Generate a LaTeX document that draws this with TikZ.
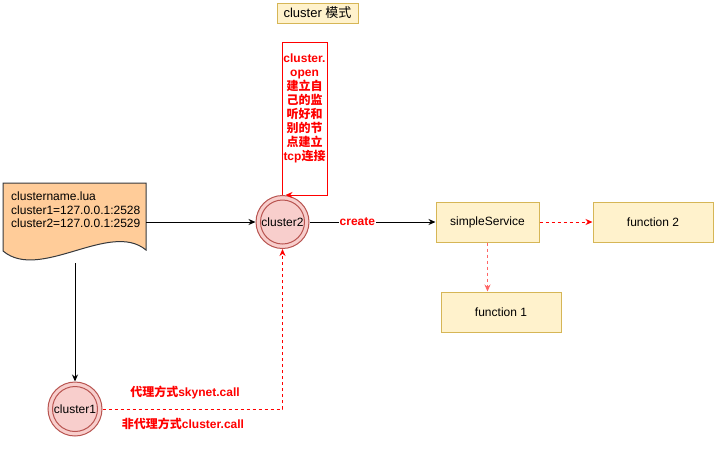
\documentclass[tikz,border=0pt]{standalone}
\usepackage{fontspec}
\setmainfont{Liberation Sans}
\newfontfamily\cjk{Noto Sans CJK SC}
\usetikzlibrary{arrows.meta}
\definecolor{yfill}{HTML}{FFF2CC}
\definecolor{yline}{HTML}{D6B656}
\definecolor{cfill}{HTML}{F8CECC}
\definecolor{cline}{HTML}{B85450}
\definecolor{dfill}{HTML}{FFCC99}
\definecolor{dline}{HTML}{36393D}
\definecolor{rd}{HTML}{FF0000}
\begin{document}
\begin{tikzpicture}[x=1pt,y=-1pt,
  font=\fontsize{12}{14}\selectfont,
  ybox/.style={draw=yline, fill=yfill, line width=1pt, minimum height=40pt, inner sep=0pt},
  cnode/.style={circle, draw=cline, fill=cfill, minimum size=53pt, inner sep=0pt, line width=1pt},
  cinner/.style={draw=cline, line width=1pt},
  redtxt/.style={text=rd, font=\fontsize{12}{14}\selectfont\bfseries},
  arr/.style={-{Stealth[length=7pt,width=6pt]}, line width=1pt},
  rdash/.style={arr, draw=rd, dash pattern=on 3pt off 3pt}]
\useasboundingbox (0,0) rectangle (718,451);
% title
\node[ybox, minimum width=81pt, minimum height=20pt, font=\fontsize{13}{15}\selectfont] (title) at (317.5,13) {cluster {\cjk 模式}};
% document
\node[minimum width=143pt, minimum height=68pt, inner sep=0pt] (doc) at (74.5,217) {};
\draw[draw=dline, fill=dfill, line width=1pt] (3,183) -- (146,183) -- (146,250)
  .. controls (110,220) and (40,282) .. (3,251) -- cycle;
\node[anchor=west, align=left, inner sep=4pt, font=\fontsize{12}{13.5}\selectfont] (doctxt) at (7,210)
  {clustername.lua\\cluster1=127.0.0.1:2528\\cluster2=127.0.0.1:2529};
% circles
\node[cnode] (c2) at (282.5,222) {};
\draw[cinner] (c2.center) circle (22pt);
\node (c2t) at (c2.center) {cluster2};
\node[cnode, minimum size=54pt] (c1) at (75,409) {};
\draw[cinner] (c1.center) circle (22.5pt);
\node (c1t) at (c1.center) {cluster1};
% boxes
\node[ybox, minimum width=103pt] (ss) at (487.5,222) {simpleService};
\node[ybox, minimum width=120pt] (f2) at (653,222) {function 2};
\node[ybox, minimum width=120pt] (f1) at (501,312) {function 1};
% connectors
\draw[arr] (doc.east |- c2.west) -- (c2.west);
\coordinate (docb) at (75,263);
\draw[arr] (docb) -- (c1.north);
\draw[arr] (c2.east) -- node[pos=0.38, fill=white, inner sep=1pt, redtxt] (create) {create} (ss.west);
\draw[rdash] (ss.east) -- (f2.west);
\draw[rdash, draw=rd!60] (ss.south) -- (ss.south |- f1.north);
\draw[rdash] (c1.east) -| (c2.south);
\node[redtxt] (lbl1) at (185,393) {{\cjk 代理方式}skynet.call};
\node[redtxt] (lbl2) at (183,424) {{\cjk 非代理方式}cluster.call};
% self loop
\coordinate (lt) at (327,42);
\draw[arr, draw=rd] (c2.north) -- (c2.north |- lt) -- (lt) -- (lt |- c2.north) -- ([xshift=3pt]c2.north);
\node[redtxt, align=center, inner sep=0pt] (openlbl) at (304.5,108)
  {cluster.\\open\\{\cjk 建立自}\\{\cjk 己的监}\\{\cjk 听好和}\\{\cjk 别的节}\\{\cjk 点建立}\\tcp{\cjk 连接}};
\end{tikzpicture}
\end{document}
